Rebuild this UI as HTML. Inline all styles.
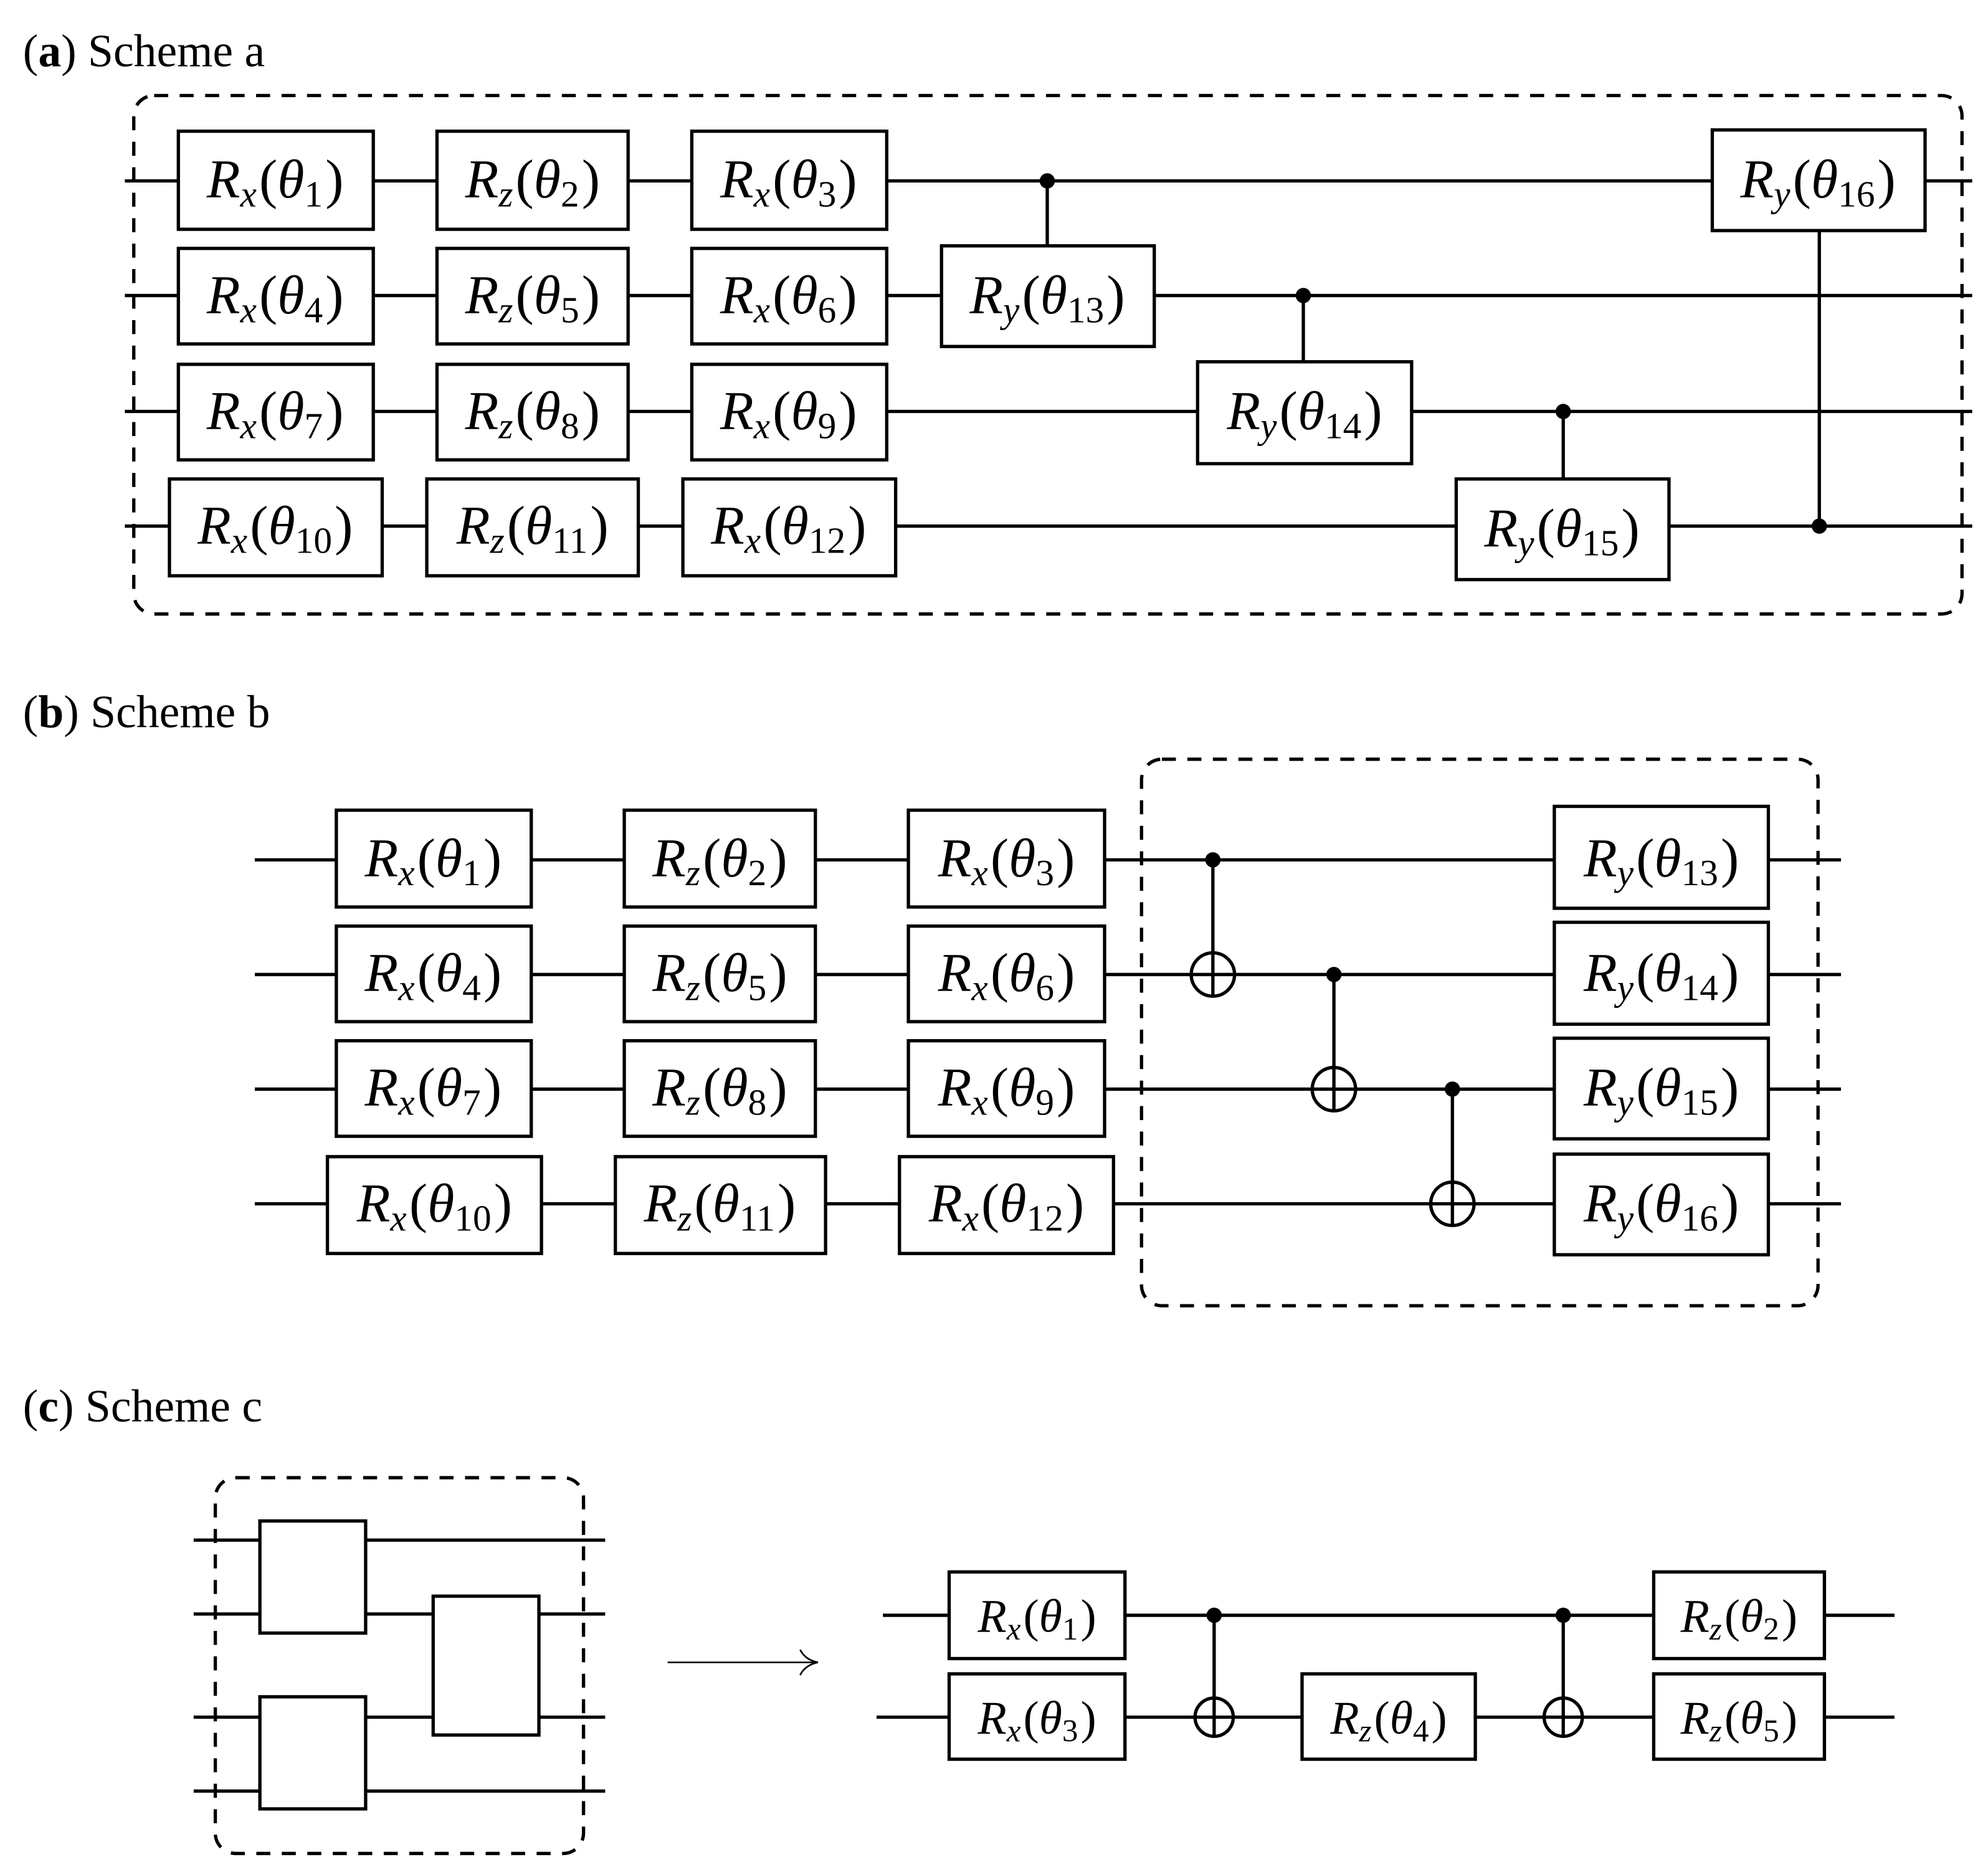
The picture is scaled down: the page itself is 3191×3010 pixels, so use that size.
<!DOCTYPE html>
<html><head><meta charset="utf-8"><style>
html,body{margin:0;padding:0;background:#fff;width:3191px;height:3010px;overflow:hidden}
svg{display:block}
text{font-family:"Liberation Serif",serif;fill:#000}
.g{font-size:43px}
.gc{font-size:37px}
.i{font-style:italic}
</style></head><body>
<svg width="3191" height="3010" viewBox="0 0 1560.4 1471.9" preserveAspectRatio="none" xmlns="http://www.w3.org/2000/svg">
<g stroke="#000" stroke-width="2.6" fill="none">
<line x1="98" y1="142" x2="1548" y2="142"/>
<line x1="98" y1="232" x2="1548" y2="232"/>
<line x1="98" y1="323" x2="1548" y2="323"/>
<line x1="98" y1="413" x2="1548" y2="413"/>
<rect x="105" y="75" width="1435" height="407" rx="16" stroke-dasharray="11,9"/>
<line x1="200" y1="675" x2="1445" y2="675"/>
<line x1="200" y1="765" x2="1445" y2="765"/>
<line x1="200" y1="855" x2="1445" y2="855"/>
<line x1="200" y1="945" x2="1445" y2="945"/>
<rect x="896" y="596" width="531" height="429" rx="16" stroke-dasharray="11,9"/>
<line x1="152" y1="1209" x2="475" y2="1209"/>
<line x1="152" y1="1267" x2="475" y2="1267"/>
<line x1="152" y1="1348" x2="475" y2="1348"/>
<line x1="152" y1="1406" x2="475" y2="1406"/>
<rect x="169" y="1160" width="289" height="295" rx="16" stroke-dasharray="11,9"/>
<line x1="693" y1="1268" x2="1487" y2="1268"/>
<line x1="688" y1="1348" x2="1487" y2="1348"/>
<line x1="524" y1="1305" x2="641" y2="1305" stroke-width="1.3"/>
<path d="M628 1295 Q632 1303 642 1305 Q632 1307 628 1315" stroke-width="1.3"/>
<line x1="822" y1="142" x2="822" y2="193"/>
<line x1="1023" y1="232" x2="1023" y2="284"/>
<line x1="1227" y1="323" x2="1227" y2="376"/>
<line x1="1428" y1="181" x2="1428" y2="413"/>
<line x1="952" y1="675" x2="952" y2="782"/>
<line x1="1047" y1="765" x2="1047" y2="872"/>
<line x1="1140" y1="855" x2="1140" y2="962"/>
<line x1="953" y1="1268" x2="953" y2="1364"/>
<line x1="1227" y1="1268" x2="1227" y2="1364"/>
</g>
<g stroke="#000" stroke-width="2.6" fill="#fff">
<rect x="140" y="103" width="153" height="77"/><rect x="343" y="103" width="150" height="77"/><rect x="543" y="103" width="153" height="77"/>
<rect x="140" y="195" width="153" height="75"/><rect x="343" y="195" width="150" height="75"/><rect x="543" y="195" width="153" height="75"/>
<rect x="140" y="286" width="153" height="75"/><rect x="343" y="286" width="150" height="75"/><rect x="543" y="286" width="153" height="75"/>
<rect x="133" y="376" width="167" height="76"/><rect x="335" y="376" width="166" height="76"/><rect x="536" y="376" width="167" height="76"/>
<rect x="739" y="193" width="167" height="79"/>
<rect x="940" y="284" width="168" height="80"/>
<rect x="1143" y="376" width="167" height="79"/>
<rect x="1344" y="102" width="167" height="79"/>
<rect x="264" y="636" width="153" height="76"/><rect x="490" y="636" width="150" height="76"/><rect x="713" y="636" width="154" height="76"/>
<rect x="264" y="727" width="153" height="75"/><rect x="490" y="727" width="150" height="75"/><rect x="713" y="727" width="154" height="75"/>
<rect x="264" y="817" width="153" height="75"/><rect x="490" y="817" width="150" height="75"/><rect x="713" y="817" width="154" height="75"/>
<rect x="257" y="908" width="168" height="76"/><rect x="483" y="908" width="165" height="76"/><rect x="706" y="908" width="168" height="76"/>
<rect x="1220" y="633" width="168" height="80"/><rect x="1220" y="724" width="168" height="80"/><rect x="1220" y="815" width="168" height="79"/><rect x="1220" y="906" width="168" height="79"/>
<rect x="204" y="1194" width="83" height="88"/><rect x="204" y="1332" width="83" height="88"/><rect x="340" y="1253" width="83" height="109"/>
<rect x="745" y="1234" width="138" height="68"/><rect x="745" y="1314" width="138" height="67"/>
<rect x="1022" y="1314" width="136" height="67"/>
<rect x="1298" y="1234" width="134" height="68"/><rect x="1298" y="1314" width="134" height="67"/>
<circle cx="952" cy="765" r="17"/><circle cx="1047" cy="855" r="17"/><circle cx="1140" cy="945" r="17"/>
<circle cx="953" cy="1348" r="15"/><circle cx="1227" cy="1348" r="15"/>
</g>
<g stroke="#000" stroke-width="2.6">
<line x1="952" y1="748" x2="952" y2="782"/><line x1="935" y1="765" x2="969" y2="765"/>
<line x1="1047" y1="838" x2="1047" y2="872"/><line x1="1030" y1="855" x2="1064" y2="855"/>
<line x1="1140" y1="928" x2="1140" y2="962"/><line x1="1123" y1="945" x2="1157" y2="945"/>
<line x1="953" y1="1333" x2="953" y2="1363"/><line x1="938" y1="1348" x2="968" y2="1348"/>
<line x1="1227" y1="1333" x2="1227" y2="1363"/><line x1="1212" y1="1348" x2="1242" y2="1348"/>
</g>
<g fill="#000">
<circle cx="822" cy="142" r="6"/><circle cx="1023" cy="232" r="6"/><circle cx="1227" cy="323" r="6"/><circle cx="1428" cy="413" r="6"/>
<circle cx="952" cy="675" r="6"/><circle cx="1047" cy="765" r="6"/><circle cx="1140" cy="855" r="6"/>
<circle cx="953" cy="1268" r="6"/><circle cx="1227" cy="1268" r="6"/>
</g>
<text x="18" y="52" font-size="36">(<tspan font-weight="bold">a</tspan>) Scheme a</text>
<text x="18" y="571" font-size="36">(<tspan font-weight="bold">b</tspan>) Scheme b</text>
<text x="18" y="1116" font-size="36">(<tspan font-weight="bold">c</tspan>) Scheme c</text>
<g class="g" text-anchor="middle">
<text x="216" y="155"><tspan class="i">R</tspan><tspan class="i" font-size="29" dy="7">x</tspan><tspan dy="-7" dx="2">(</tspan><tspan class="i">θ</tspan><tspan font-size="29" dy="7">1</tspan><tspan dy="-7" dx="2">)</tspan></text>
<text x="418" y="155"><tspan class="i">R</tspan><tspan class="i" font-size="29" dy="7">z</tspan><tspan dy="-7" dx="2">(</tspan><tspan class="i">θ</tspan><tspan font-size="29" dy="7">2</tspan><tspan dy="-7" dx="2">)</tspan></text>
<text x="619" y="155"><tspan class="i">R</tspan><tspan class="i" font-size="29" dy="7">x</tspan><tspan dy="-7" dx="2">(</tspan><tspan class="i">θ</tspan><tspan font-size="29" dy="7">3</tspan><tspan dy="-7" dx="2">)</tspan></text>
<text x="216" y="246"><tspan class="i">R</tspan><tspan class="i" font-size="29" dy="7">x</tspan><tspan dy="-7" dx="2">(</tspan><tspan class="i">θ</tspan><tspan font-size="29" dy="7">4</tspan><tspan dy="-7" dx="2">)</tspan></text>
<text x="418" y="246"><tspan class="i">R</tspan><tspan class="i" font-size="29" dy="7">z</tspan><tspan dy="-7" dx="2">(</tspan><tspan class="i">θ</tspan><tspan font-size="29" dy="7">5</tspan><tspan dy="-7" dx="2">)</tspan></text>
<text x="619" y="246"><tspan class="i">R</tspan><tspan class="i" font-size="29" dy="7">x</tspan><tspan dy="-7" dx="2">(</tspan><tspan class="i">θ</tspan><tspan font-size="29" dy="7">6</tspan><tspan dy="-7" dx="2">)</tspan></text>
<text x="216" y="337"><tspan class="i">R</tspan><tspan class="i" font-size="29" dy="7">x</tspan><tspan dy="-7" dx="2">(</tspan><tspan class="i">θ</tspan><tspan font-size="29" dy="7">7</tspan><tspan dy="-7" dx="2">)</tspan></text>
<text x="418" y="337"><tspan class="i">R</tspan><tspan class="i" font-size="29" dy="7">z</tspan><tspan dy="-7" dx="2">(</tspan><tspan class="i">θ</tspan><tspan font-size="29" dy="7">8</tspan><tspan dy="-7" dx="2">)</tspan></text>
<text x="619" y="337"><tspan class="i">R</tspan><tspan class="i" font-size="29" dy="7">x</tspan><tspan dy="-7" dx="2">(</tspan><tspan class="i">θ</tspan><tspan font-size="29" dy="7">9</tspan><tspan dy="-7" dx="2">)</tspan></text>
<text x="216" y="427"><tspan class="i">R</tspan><tspan class="i" font-size="29" dy="7">x</tspan><tspan dy="-7" dx="2">(</tspan><tspan class="i">θ</tspan><tspan font-size="29" dy="7">10</tspan><tspan dy="-7" dx="2">)</tspan></text>
<text x="418" y="427"><tspan class="i">R</tspan><tspan class="i" font-size="29" dy="7">z</tspan><tspan dy="-7" dx="2">(</tspan><tspan class="i">θ</tspan><tspan font-size="29" dy="7">11</tspan><tspan dy="-7" dx="2">)</tspan></text>
<text x="619" y="427"><tspan class="i">R</tspan><tspan class="i" font-size="29" dy="7">x</tspan><tspan dy="-7" dx="2">(</tspan><tspan class="i">θ</tspan><tspan font-size="29" dy="7">12</tspan><tspan dy="-7" dx="2">)</tspan></text>
<text x="822" y="246"><tspan class="i">R</tspan><tspan class="i" font-size="29" dy="7">y</tspan><tspan dy="-7" dx="2">(</tspan><tspan class="i">θ</tspan><tspan font-size="29" dy="7">13</tspan><tspan dy="-7" dx="2">)</tspan></text>
<text x="1024" y="337"><tspan class="i">R</tspan><tspan class="i" font-size="29" dy="7">y</tspan><tspan dy="-7" dx="2">(</tspan><tspan class="i">θ</tspan><tspan font-size="29" dy="7">14</tspan><tspan dy="-7" dx="2">)</tspan></text>
<text x="1226" y="429"><tspan class="i">R</tspan><tspan class="i" font-size="29" dy="7">y</tspan><tspan dy="-7" dx="2">(</tspan><tspan class="i">θ</tspan><tspan font-size="29" dy="7">15</tspan><tspan dy="-7" dx="2">)</tspan></text>
<text x="1427" y="155"><tspan class="i">R</tspan><tspan class="i" font-size="29" dy="7">y</tspan><tspan dy="-7" dx="2">(</tspan><tspan class="i">θ</tspan><tspan font-size="29" dy="7">16</tspan><tspan dy="-7" dx="2">)</tspan></text>
<text x="340" y="688"><tspan class="i">R</tspan><tspan class="i" font-size="29" dy="7">x</tspan><tspan dy="-7" dx="2">(</tspan><tspan class="i">θ</tspan><tspan font-size="29" dy="7">1</tspan><tspan dy="-7" dx="2">)</tspan></text>
<text x="565" y="688"><tspan class="i">R</tspan><tspan class="i" font-size="29" dy="7">z</tspan><tspan dy="-7" dx="2">(</tspan><tspan class="i">θ</tspan><tspan font-size="29" dy="7">2</tspan><tspan dy="-7" dx="2">)</tspan></text>
<text x="790" y="688"><tspan class="i">R</tspan><tspan class="i" font-size="29" dy="7">x</tspan><tspan dy="-7" dx="2">(</tspan><tspan class="i">θ</tspan><tspan font-size="29" dy="7">3</tspan><tspan dy="-7" dx="2">)</tspan></text>
<text x="340" y="778"><tspan class="i">R</tspan><tspan class="i" font-size="29" dy="7">x</tspan><tspan dy="-7" dx="2">(</tspan><tspan class="i">θ</tspan><tspan font-size="29" dy="7">4</tspan><tspan dy="-7" dx="2">)</tspan></text>
<text x="565" y="778"><tspan class="i">R</tspan><tspan class="i" font-size="29" dy="7">z</tspan><tspan dy="-7" dx="2">(</tspan><tspan class="i">θ</tspan><tspan font-size="29" dy="7">5</tspan><tspan dy="-7" dx="2">)</tspan></text>
<text x="790" y="778"><tspan class="i">R</tspan><tspan class="i" font-size="29" dy="7">x</tspan><tspan dy="-7" dx="2">(</tspan><tspan class="i">θ</tspan><tspan font-size="29" dy="7">6</tspan><tspan dy="-7" dx="2">)</tspan></text>
<text x="340" y="868"><tspan class="i">R</tspan><tspan class="i" font-size="29" dy="7">x</tspan><tspan dy="-7" dx="2">(</tspan><tspan class="i">θ</tspan><tspan font-size="29" dy="7">7</tspan><tspan dy="-7" dx="2">)</tspan></text>
<text x="565" y="868"><tspan class="i">R</tspan><tspan class="i" font-size="29" dy="7">z</tspan><tspan dy="-7" dx="2">(</tspan><tspan class="i">θ</tspan><tspan font-size="29" dy="7">8</tspan><tspan dy="-7" dx="2">)</tspan></text>
<text x="790" y="868"><tspan class="i">R</tspan><tspan class="i" font-size="29" dy="7">x</tspan><tspan dy="-7" dx="2">(</tspan><tspan class="i">θ</tspan><tspan font-size="29" dy="7">9</tspan><tspan dy="-7" dx="2">)</tspan></text>
<text x="341" y="959"><tspan class="i">R</tspan><tspan class="i" font-size="29" dy="7">x</tspan><tspan dy="-7" dx="2">(</tspan><tspan class="i">θ</tspan><tspan font-size="29" dy="7">10</tspan><tspan dy="-7" dx="2">)</tspan></text>
<text x="565" y="959"><tspan class="i">R</tspan><tspan class="i" font-size="29" dy="7">z</tspan><tspan dy="-7" dx="2">(</tspan><tspan class="i">θ</tspan><tspan font-size="29" dy="7">11</tspan><tspan dy="-7" dx="2">)</tspan></text>
<text x="790" y="959"><tspan class="i">R</tspan><tspan class="i" font-size="29" dy="7">x</tspan><tspan dy="-7" dx="2">(</tspan><tspan class="i">θ</tspan><tspan font-size="29" dy="7">12</tspan><tspan dy="-7" dx="2">)</tspan></text>
<text x="1304" y="688"><tspan class="i">R</tspan><tspan class="i" font-size="29" dy="7">y</tspan><tspan dy="-7" dx="2">(</tspan><tspan class="i">θ</tspan><tspan font-size="29" dy="7">13</tspan><tspan dy="-7" dx="2">)</tspan></text>
<text x="1304" y="778"><tspan class="i">R</tspan><tspan class="i" font-size="29" dy="7">y</tspan><tspan dy="-7" dx="2">(</tspan><tspan class="i">θ</tspan><tspan font-size="29" dy="7">14</tspan><tspan dy="-7" dx="2">)</tspan></text>
<text x="1304" y="868"><tspan class="i">R</tspan><tspan class="i" font-size="29" dy="7">y</tspan><tspan dy="-7" dx="2">(</tspan><tspan class="i">θ</tspan><tspan font-size="29" dy="7">15</tspan><tspan dy="-7" dx="2">)</tspan></text>
<text x="1304" y="959"><tspan class="i">R</tspan><tspan class="i" font-size="29" dy="7">y</tspan><tspan dy="-7" dx="2">(</tspan><tspan class="i">θ</tspan><tspan font-size="29" dy="7">16</tspan><tspan dy="-7" dx="2">)</tspan></text>
</g>
<g class="gc" text-anchor="middle">
<text x="814" y="1281"><tspan class="i">R</tspan><tspan class="i" font-size="25" dy="6">x</tspan><tspan dy="-6" dx="2">(</tspan><tspan class="i">θ</tspan><tspan font-size="25" dy="6">1</tspan><tspan dy="-6" dx="2">)</tspan></text>
<text x="814" y="1361"><tspan class="i">R</tspan><tspan class="i" font-size="25" dy="6">x</tspan><tspan dy="-6" dx="2">(</tspan><tspan class="i">θ</tspan><tspan font-size="25" dy="6">3</tspan><tspan dy="-6" dx="2">)</tspan></text>
<text x="1090" y="1361"><tspan class="i">R</tspan><tspan class="i" font-size="25" dy="6">z</tspan><tspan dy="-6" dx="2">(</tspan><tspan class="i">θ</tspan><tspan font-size="25" dy="6">4</tspan><tspan dy="-6" dx="2">)</tspan></text>
<text x="1365" y="1281"><tspan class="i">R</tspan><tspan class="i" font-size="25" dy="6">z</tspan><tspan dy="-6" dx="2">(</tspan><tspan class="i">θ</tspan><tspan font-size="25" dy="6">2</tspan><tspan dy="-6" dx="2">)</tspan></text>
<text x="1365" y="1361"><tspan class="i">R</tspan><tspan class="i" font-size="25" dy="6">z</tspan><tspan dy="-6" dx="2">(</tspan><tspan class="i">θ</tspan><tspan font-size="25" dy="6">5</tspan><tspan dy="-6" dx="2">)</tspan></text>
</g>
</svg>
</body></html>
